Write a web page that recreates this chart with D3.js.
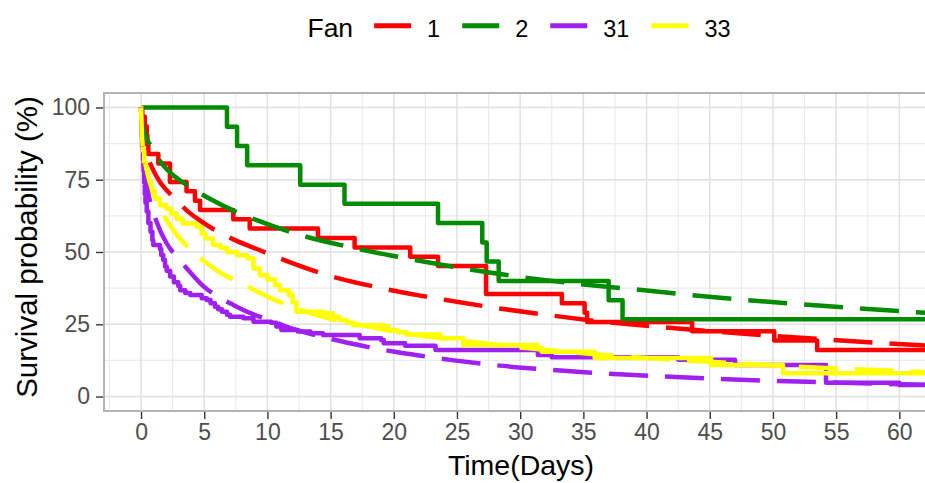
<!DOCTYPE html>
<html>
<head>
<meta charset="utf-8">
<script src="https://cdn.jsdelivr.net/npm/d3@7"></script>
<style>
  body { margin: 0; background: #fff; }
  svg { display: block; font-family: "Liberation Sans", Arial, Helvetica, sans-serif; }
</style>
</head>
<body>
<svg id="chart" width="925" height="483"></svg>
<script>
// ---- Kaplan-Meier estimates per fan (time in days, survival in %) ----
const fans = ["1", "2", "31", "33"];
const fanColours = ["#FF0000", "#008B00", "#A020F0", "#FFFF00"];

const kmTime1 = [0, 0.1, 0.3, 0.45, 0.5, 0.58, 1.37, 2.29, 3.6, 4.27, 4.67, 7.3, 8.6, 14.0, 16.9, 21.3, 23.5, 27.3, 33.3, 35.1, 35.3, 43.6, 50.1, 53.5, 63];
const kmSurv1 = [100, 96.8, 93.5, 90.3, 87.1, 83.9, 80.6, 74.2, 71.0, 67.7, 64.5, 61.3, 58.1, 54.8, 51.6, 48.4, 45.2, 35.5, 32.3, 29.0, 25.8, 22.6, 19.4, 16.1, 16.1];

const kmTime2 = [0, 6.8, 7.6, 8.4, 12.6, 16.1, 23.5, 27.0, 27.35, 28.3, 37.0, 38.1, 63];
const kmSurv2 = [100, 93.3, 86.7, 80.0, 73.3, 66.7, 60.0, 53.3, 46.7, 40.0, 33.3, 26.7, 26.7];

const kmTime31 = [0, 0.04, 0.08, 0.12, 0.16, 0.2, 0.25, 0.3, 0.35, 0.45, 0.58, 0.75, 0.9, 0.97, 1.5, 1.6, 1.76, 1.9, 2.03, 2.3, 2.6, 2.95, 3.1, 3.5, 3.9, 4.8, 5.2, 5.5, 5.85, 6.1, 6.4, 6.8, 7.04, 8.1, 8.9, 10.3, 10.7, 11.1, 12.4, 13.4, 14.4, 17.3, 19.0, 19.2, 20.9, 23.3, 31.4, 32.5, 42.5, 47.0, 54.2, 60.0, 63];
const kmSurv31 = [100, 95, 90, 86, 82, 78, 74, 70, 67, 64, 60, 57, 54, 52.4, 51, 49, 47.2, 45, 43.5, 41.5, 39.5, 38.2, 36.8, 35.8, 35.1, 34.0, 33.4, 32.3, 31.1, 30.2, 29.3, 28.3, 27.6, 27.1, 25.9, 25.5, 24.2, 23.0, 22.5, 21.9, 21.3, 20.2, 19.6, 18.4, 17.6, 16.1, 14.4, 13.6, 12.7, 10.9, 4.8, 4.0, 4.0];

const kmTime33 = [0, 0.03, 0.06, 0.1, 0.15, 0.25, 0.4, 0.55, 0.8, 1.1, 1.5, 2.0, 2.4, 2.8, 3.3, 4.4, 4.8, 5.1, 5.7, 6.3, 6.8, 7.6, 8.4, 8.9, 9.4, 10.0, 10.6, 11.0, 11.7, 12.0, 12.3, 14.4, 15.2, 15.7, 16.3, 16.8, 19.2, 19.6, 20.3, 21.0, 23.7, 25.5, 31.4, 31.7, 35.9, 45.1, 50.8, 63];
const kmSurv33 = [100, 96, 92, 88, 85, 81, 78, 74.2, 71, 68.5, 66.2, 65, 63.3, 61.5, 59.9, 58.7, 56.5, 54.7, 52.4, 51.5, 50, 48.9, 47.8, 44.3, 42, 40.5, 38.6, 36.8, 35.1, 32.5, 29.3, 28.8, 27.6, 26.5, 25.5, 24.7, 24.2, 23.0, 22.2, 21.5, 20.2, 17.8, 16.7, 15.5, 13.3, 10.9, 8.1, 8.1];

// ---- Fitted parametric survival curves (dashed) ----
const fitTime1 = [0, 0.1, 0.3, 0.85, 1.6, 2.56, 3.61, 4.8, 6.1, 7.44, 9.4, 11.7, 14.6, 18.9, 22.1, 24.7, 27.7, 32.2, 36.3, 41.2, 45.7, 50, 54.7, 58, 63];
const fitSurv1 = [100, 91.6, 86.5, 79.4, 73.6, 69, 64.4, 60.5, 57, 54.1, 50.6, 46.6, 42.2, 37.6, 34.9, 33.0, 30.9, 28.2, 26.0, 24.0, 22.4, 21.0, 19.6, 18.7, 17.4];

const fitTime2 = [0, 0.05, 0.18, 0.84, 1.64, 2.7, 3.88, 5.19, 7.83, 9.15, 12.2, 16.5, 21, 25.4, 29.8, 34.3, 38.8, 43.3, 47.8, 52.3, 56.8, 63];
const fitSurv2 = [100, 96, 92.6, 86.3, 80.6, 76, 72.5, 69, 63.3, 61, 56.4, 51.7, 47.8, 44.4, 41.5, 39.1, 37.2, 35.2, 33.4, 31.9, 30.5, 28.7];

const fitTime31 = [0, 0.1, 0.25, 0.5, 1.24, 2.0, 2.82, 3.75, 4.9, 6.12, 7.3, 8.8, 10.3, 11.5, 14.4, 15.75, 18.1, 20.2, 22, 24.6, 27.7, 32.2, 36.3, 41.2, 45.7, 50.1, 54.7, 58, 63];
const fitSurv31 = [100, 85.6, 78.8, 71.9, 60.4, 53.2, 48.3, 43.7, 38.3, 34.5, 31.7, 28.6, 26.3, 24.2, 20.6, 19.2, 17.0, 15.4, 14.2, 12.6, 11.0, 9.3, 8.1, 7.0, 6.1, 5.4, 4.9, 4.5, 4.0];

const fitTime33 = [0, 0.1, 0.5, 1, 2.03, 3, 4.0, 5.06, 6.3, 7.7, 9.0, 10.4, 11.9, 13.1, 14.5, 16.0, 17.1, 20, 25, 30, 35, 40, 45, 50, 55, 60, 63];
const fitSurv33 = [100, 88.6, 77.4, 70.2, 61, 55, 50.6, 46.6, 42.8, 39.7, 36.8, 33.8, 31.1, 29.3, 27.5, 25.9, 25.0, 22.5, 19.5, 17, 15, 13.3, 12, 10.8, 9.7, 8.8, 8.3];

// ---- Axis ticks ----
const xTicks = [0, 5, 10, 15, 20, 25, 30, 35, 40, 45, 50, 55, 60];
const xMinor = [-2.5, 2.5, 7.5, 12.5, 17.5, 22.5, 27.5, 32.5, 37.5, 42.5, 47.5, 52.5, 57.5, 62.5];
const yTicks = [0, 25, 50, 75, 100];
const yMinor = [12.5, 37.5, 62.5, 87.5];

const kmTimes = [kmTime1, kmTime2, kmTime31, kmTime33];
const kmSurvs = [kmSurv1, kmSurv2, kmSurv31, kmSurv33];
const fitTimes = [fitTime1, fitTime2, fitTime31, fitTime33];
const fitSurvs = [fitSurv1, fitSurv2, fitSurv31, fitSurv33];

const svg = d3.select("#chart");
const panel = { left: 104, right: 938, top: 93, bottom: 411 };

const x = d3.scaleLinear().domain([-2.93, 63.06]).range([panel.left, panel.right]);
const y = d3.scaleLinear().domain([-5, 105]).range([panel.bottom, panel.top]);

svg.append("defs").append("clipPath").attr("id", "panelClip")
  .append("rect")
  .attr("x", panel.left).attr("y", panel.top)
  .attr("width", panel.right - panel.left).attr("height", panel.bottom - panel.top);

// grid
const grid = svg.append("g");
grid.selectAll(".vminor").data(xMinor).join("line")
  .attr("x1", d => x(d)).attr("x2", d => x(d))
  .attr("y1", panel.top).attr("y2", panel.bottom)
  .attr("stroke", "#EBEBEB").attr("stroke-width", 1.2);
grid.selectAll(".hminor").data(yMinor).join("line")
  .attr("y1", d => y(d)).attr("y2", d => y(d))
  .attr("x1", panel.left).attr("x2", panel.right)
  .attr("stroke", "#EBEBEB").attr("stroke-width", 1.2);
grid.selectAll(".vmajor").data(xTicks).join("line")
  .attr("x1", d => x(d)).attr("x2", d => x(d))
  .attr("y1", panel.top).attr("y2", panel.bottom)
  .attr("stroke", "#E0E0E0").attr("stroke-width", 1.5);
grid.selectAll(".hmajor").data(yTicks).join("line")
  .attr("y1", d => y(d)).attr("y2", d => y(d))
  .attr("x1", panel.left).attr("x2", panel.right)
  .attr("stroke", "#E0E0E0").attr("stroke-width", 1.5);

// curves
const plot = svg.append("g").attr("clip-path", "url(#panelClip)");
const stepLine = d3.line().x(d => x(d[0])).y(d => y(d[1])).curve(d3.curveStepAfter);
const fitLine = d3.line().x(d => x(d[0])).y(d => y(d[1])).curve(d3.curveMonotoneX);

fans.forEach((f, i) => {
  const pts = kmTimes[i].map((t, j) => [t, kmSurvs[i][j]]);
  plot.append("path").datum(pts)
    .attr("d", stepLine)
    .attr("fill", "none")
    .attr("stroke", fanColours[i])
    .attr("stroke-width", 4.5)
    .attr("stroke-linejoin", "round");
});
fans.forEach((f, i) => {
  const pts = fitTimes[i].map((t, j) => [t, fitSurvs[i][j]]);
  plot.append("path").datum(pts)
    .attr("d", fitLine)
    .attr("fill", "none")
    .attr("stroke", fanColours[i])
    .attr("stroke-width", 4.5)
    .attr("stroke-dasharray", "39,17");
});

// panel border
svg.append("rect")
  .attr("x", panel.left).attr("y", panel.top)
  .attr("width", panel.right - panel.left).attr("height", panel.bottom - panel.top)
  .attr("fill", "none").attr("stroke", "#B3B3B3").attr("stroke-width", 2);

// axes
const xAxis = svg.append("g")
  .attr("transform", `translate(0,${panel.bottom + 1})`)
  .call(d3.axisBottom(x).tickValues(xTicks).tickSize(7).tickPadding(5).tickFormat(d3.format("d")));
const yAxis = svg.append("g")
  .attr("transform", `translate(${panel.left - 1},0)`)
  .call(d3.axisLeft(y).tickValues(yTicks).tickSize(7).tickPadding(6).tickFormat(d3.format("d")));
[xAxis, yAxis].forEach(a => {
  a.select(".domain").remove();
  a.selectAll(".tick line").attr("stroke", "#333333").attr("stroke-width", 1.4);
  a.selectAll(".tick text").attr("fill", "#4D4D4D")
    .style("font-size", "23px").style("font-family", "Liberation Sans, Arial, sans-serif");
});

// axis titles
svg.append("text")
  .attr("x", (panel.left + panel.right) / 2).attr("y", 475)
  .attr("text-anchor", "middle")
  .style("font-size", "28.5px").attr("fill", "#000")
  .text("Time(Days)");
svg.append("text")
  .attr("transform", `translate(37,247) rotate(-90)`)
  .attr("text-anchor", "middle")
  .style("font-size", "29.5px").attr("fill", "#000")
  .text("Survival probability (%)");

// legend
const legend = svg.append("g");
const legendTitle = legend.append("text")
  .attr("x", 0).attr("y", 36.7)
  .style("font-size", "26.5px").attr("fill", "#000")
  .text("Fan");
let cx = legendTitle.node().getComputedTextLength() + 21;
fans.forEach((f, i) => {
  legend.append("line")
    .attr("x1", cx).attr("x2", cx + 37)
    .attr("y1", 25.8).attr("y2", 25.8)
    .attr("stroke", fanColours[i]).attr("stroke-width", 5);
  const lbl = legend.append("text")
    .attr("x", cx + 37 + 16).attr("y", 36.7)
    .style("font-size", "23.5px").attr("fill", "#000")
    .text(f);
  cx += 37 + 16 + lbl.node().getComputedTextLength() + 22;
});
const legendWidth = cx - 22;
legend.attr("transform", `translate(${(panel.left + panel.right) / 2 - legendWidth / 2 - 2},0)`);
</script>
</body>
</html>
